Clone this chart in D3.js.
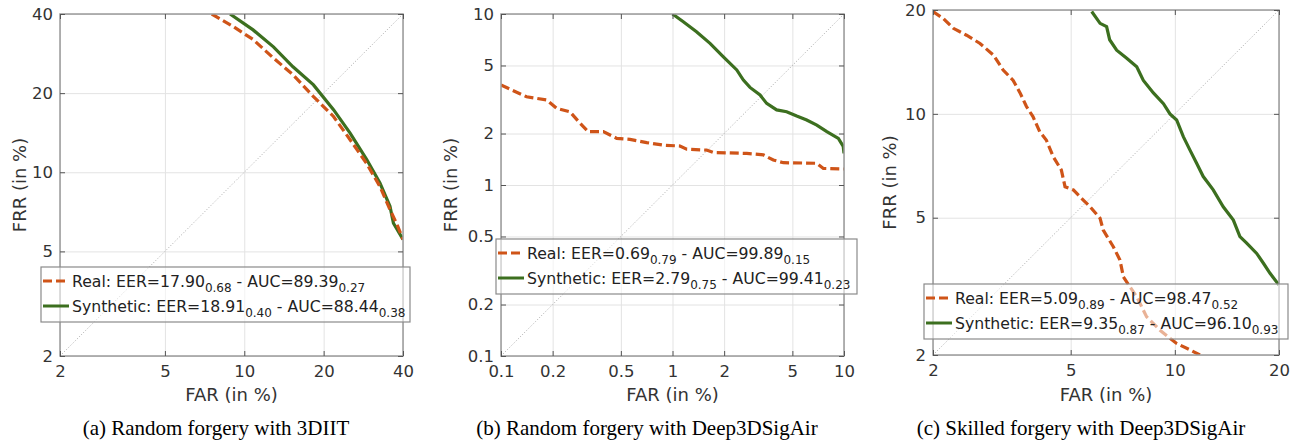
<!DOCTYPE html>
<html>
<head>
<meta charset="utf-8">
<script src="https://cdn.jsdelivr.net/npm/d3@7"></script>
<style>
  body { margin: 0; background: #fff; }
  svg { display: block; }
  .tick text { fill: #333; }
</style>
</head>
<body>
<svg id="chart" width="1297" height="440"></svg>
<script>
// DET curves, [FAR %, FRR %]
const realA = [[7.53,40],[9.09,35.8],[10.8,32.0],[12.9,27.2],[15.3,23.5],[18.3,19.4],[21.8,16.3],[25.2,13.3],
  [29.1,10.8],[32.7,8.83],[35.7,7.21],[38.0,6.32],[40,5.55]];
const synthA = [[8.83,40],[10.8,34.8],[12.9,30.0],[15.3,25.2],[18.3,21.5],[21.8,17.3],[25.2,14.1],[29.1,11.2],
  [32.7,9.1],[35.7,7.42],[36.8,6.4],[40,5.55]];

const realB = [[0.1,3.84],[0.141,3.28],[0.185,3.14],[0.211,2.81],[0.2525,2.68],[0.289,2.30],[0.323,2.05],[0.395,2.05],
  [0.473,1.875],[0.565,1.85],[0.707,1.77],[0.884,1.71],[1.106,1.69],[1.21,1.62],[1.58,1.60],[1.73,1.55],[2.71,1.53],
  [3.39,1.50],[3.87,1.40],[4.43,1.35],[6.94,1.34],[7.58,1.25],[10,1.24]];
const synthB = [[1.0,10],[1.156,9.01],[1.38,7.88],[1.655,6.74],[1.98,5.62],[2.37,4.71],[2.59,4.11],[2.83,3.72],
  [3.24,3.36],[3.54,3.00],[4.05,2.75],[4.63,2.68],[5.30,2.53],[6.06,2.40],[6.94,2.24],[7.94,2.05],[9.27,1.875],
  [9.9,1.68],[10,1.53]];

const realC = [[2,19.8],[2.14,18.9],[2.29,17.7],[2.50,16.9],[2.735,16.0],[2.99,14.8],[3.19,13.4],[3.41,12.5],
  [3.57,11.5],[3.725,10.5],[3.89,9.82],[4.07,8.87],[4.25,8.40],[4.45,7.52],[4.70,6.87],[4.815,6.15],[5.09,6.02],
  [5.32,5.75],[5.69,5.38],[6.08,4.98],[6.21,4.60],[6.64,4.12],[6.94,3.77],[7.10,3.37],[7.42,3.15],[7.76,2.95],
  [8.29,2.58],[9.06,2.36],[10.12,2.16],[11.06,2.07],[11.82,2.0]];
const synthC = [[5.75,19.8],[6.08,18.3],[6.35,17.9],[6.48,16.4],[6.79,15.3],[7.26,14.5],[7.76,13.7],[8.11,12.5],
  [8.67,11.5],[9.27,10.7],[9.68,10.0],[10.12,9.6],[10.58,8.59],[11.06,7.85],[11.56,7.19],[12.08,6.58],[12.91,6.02],
  [13.8,5.38],[14.76,4.92],[15.42,4.41],[16.13,4.22],[17.24,3.94],[18.03,3.69],[18.84,3.45],[20,3.19]];

const ticksA = [2, 5, 10, 20, 40];
const ticksB = [0.1, 0.2, 0.5, 1, 2, 5, 10];
const ticksC = [2, 5, 10, 20];

const legendA = [["Real: EER=17.90", "0.68", " - AUC=89.39", "0.27"], ["Synthetic: EER=18.91", "0.40", " - AUC=88.44", "0.38"]];
const legendB = [["Real: EER=0.69", "0.79", " - AUC=99.89", "0.15"], ["Synthetic: EER=2.79", "0.75", " - AUC=99.41", "0.23"]];
const legendC = [["Real: EER=5.09", "0.89", " - AUC=98.47", "0.52"], ["Synthetic: EER=9.35", "0.87", " - AUC=96.10", "0.93"]];

const captions = ["(a) Random forgery with 3DIIT", "(b) Random forgery with Deep3DSigAir", "(c) Skilled forgery with Deep3DSigAir"];

const ORANGE = "#cf5418", GREEN = "#3c6f1f";
const FONT = "'DejaVu Sans', sans-serif";

const panels = [
  { left: 60, right: 403, top: 14, bottom: 356, domain: [2, 40], ticks: ticksA, real: realA, synth: synthA,
    legend: legendA, lg: { x: 41, y: 267, w: 369, h: 55 }, ylab: 19, cap: captions[0], capX: 216 },
  { left: 501, right: 844, top: 14, bottom: 356, domain: [0.1, 10], ticks: ticksB, real: realB, synth: synthB,
    legend: legendB, lg: { x: 496, y: 239, w: 361, h: 55 }, ylab: 450, cap: captions[1], capX: 647 },
  { left: 933, right: 1279, top: 10, bottom: 355, domain: [2, 20], ticks: ticksC, real: realC, synth: synthC,
    legend: legendC, lg: { x: 924, y: 284, w: 364, h: 55 }, ylab: 889, cap: captions[2], capX: 1081 }
];

const svg = d3.select("#chart");

panels.forEach((p, i) => {
  const x = d3.scaleLog().domain(p.domain).range([p.left, p.right]);
  const y = d3.scaleLog().domain(p.domain).range([p.bottom, p.top]);
  const w = p.right - p.left, h = p.bottom - p.top;
  const fmt = d3.format("~g");

  const g = svg.append("g");

  g.append("clipPath").attr("id", "clip" + i)
    .append("rect").attr("x", p.left).attr("y", p.top).attr("width", w).attr("height", h);

  // grid
  g.append("g").attr("transform", `translate(0,${p.bottom})`)
    .call(d3.axisBottom(x).tickValues(p.ticks).tickSize(-h).tickFormat(""))
    .call(s => s.select(".domain").remove())
    .selectAll("line").attr("stroke", "#e3e3e3");
  g.append("g").attr("transform", `translate(${p.left},0)`)
    .call(d3.axisLeft(y).tickValues(p.ticks).tickSize(-w).tickFormat(""))
    .call(s => s.select(".domain").remove())
    .selectAll("line").attr("stroke", "#e3e3e3");

  // diagonal FAR = FRR
  g.append("line")
    .attr("x1", x(p.domain[0])).attr("y1", y(p.domain[0]))
    .attr("x2", x(p.domain[1])).attr("y2", y(p.domain[1]))
    .attr("stroke", "#a8a8a8").attr("stroke-width", 1).attr("stroke-dasharray", "1,2");

  const line = d3.line().x(d => x(d[0])).y(d => y(d[1]));
  const curves = g.append("g").attr("clip-path", `url(#clip${i})`);
  curves.append("path").datum(p.synth).attr("d", line)
    .attr("fill", "none").attr("stroke", GREEN).attr("stroke-width", 3.2);
  curves.append("path").datum(p.real).attr("d", line)
    .attr("fill", "none").attr("stroke", ORANGE).attr("stroke-width", 3.2).attr("stroke-dasharray", "9,4");

  // box
  g.append("rect").attr("x", p.left).attr("y", p.top).attr("width", w).attr("height", h)
    .attr("fill", "none").attr("stroke", "#9a9a9a").attr("stroke-width", 1.5);

  // inner ticks on all sides
  const tk = (axis, tr) => g.append("g").attr("transform", tr)
    .call(axis.tickValues(p.ticks).tickSizeInner(-5).tickSizeOuter(0).tickFormat(""))
    .call(s => s.select(".domain").remove())
    .selectAll("line").attr("stroke", "#555");
  tk(d3.axisBottom(x), `translate(0,${p.bottom})`);
  tk(d3.axisTop(x), `translate(0,${p.top})`);
  tk(d3.axisLeft(y), `translate(${p.left},0)`);
  tk(d3.axisRight(y), `translate(${p.right},0)`);

  // tick labels
  g.append("g").attr("transform", `translate(0,${p.bottom})`)
    .call(d3.axisBottom(x).tickValues(p.ticks).tickSize(0).tickPadding(9).tickFormat(fmt))
    .call(s => s.select(".domain").remove())
    .selectAll("text").attr("font-family", FONT).attr("font-size", 16.5);
  g.append("g").attr("transform", `translate(${p.left},0)`)
    .call(d3.axisLeft(y).tickValues(p.ticks).tickSize(0).tickPadding(7).tickFormat(fmt))
    .call(s => s.select(".domain").remove())
    .selectAll("text").attr("font-family", FONT).attr("font-size", 16.5);

  // axis labels
  g.append("text").attr("x", (p.left + p.right) / 2).attr("y", 401)
    .attr("text-anchor", "middle").attr("font-family", FONT).attr("font-size", 18).attr("fill", "#333")
    .text("FAR (in %)");
  g.append("text").attr("transform", `translate(${p.ylab},${(p.top + p.bottom) / 2}) rotate(-90)`)
    .attr("text-anchor", "middle").attr("dominant-baseline", "central")
    .attr("font-family", FONT).attr("font-size", 18).attr("fill", "#333")
    .text("FRR (in %)");

  // legend
  const lg = g.append("g");
  lg.append("rect").attr("x", p.lg.x).attr("y", p.lg.y).attr("width", p.lg.w).attr("height", p.lg.h)
    .attr("fill", "#fff").attr("fill-opacity", 0.55).attr("stroke", "#8a8a8a").attr("stroke-width", 1.2);
  const rows = [p.lg.y + 14, p.lg.y + 39];
  [ORANGE, GREEN].forEach((c, k) => {
    lg.append("line").attr("x1", p.lg.x + 2).attr("x2", p.lg.x + 28)
      .attr("y1", rows[k]).attr("y2", rows[k])
      .attr("stroke", c).attr("stroke-width", 3)
      .attr("stroke-dasharray", k === 0 ? "9,4" : null);
    const t = lg.append("text").attr("x", p.lg.x + 31).attr("y", rows[k])
      .attr("dominant-baseline", "central")
      .attr("font-family", FONT).attr("font-size", 15.7).attr("fill", "#222");
    const parts = p.legend[k];
    t.append("tspan").text(parts[0]);
    t.append("tspan").attr("font-size", 12).attr("dy", 7).text(parts[1]);
    t.append("tspan").attr("dy", -7).text(parts[2]);
    t.append("tspan").attr("font-size", 12).attr("dy", 7).text(parts[3]);
  });

  // caption
  g.append("text").attr("x", p.capX).attr("y", 435).attr("text-anchor", "middle")
    .attr("font-family", "'Liberation Serif', 'Times New Roman', serif").attr("font-size", 21).attr("fill", "#000")
    .text(p.cap);
});
</script>
</body>
</html>
